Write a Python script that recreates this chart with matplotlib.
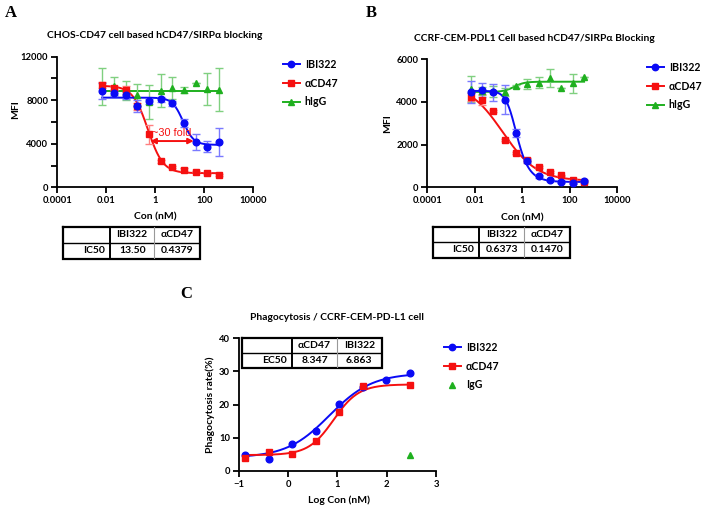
import matplotlib
matplotlib.use("Agg")
import matplotlib.pyplot as plt
import numpy as np
from matplotlib.lines import Line2D

plt.rcParams["font.family"] = ["Lato", "DejaVu Sans"]
plt.rcParams["font.weight"] = "bold"

W, H = 709, 516

# ---------------------------------------------------------------------------
# Data
# ---------------------------------------------------------------------------
conc = [0.0068, 0.020, 0.061, 0.18, 0.55, 1.65, 4.9, 15, 44, 133, 400]

# Panel A: CHOS-CD47 blocking
a_ibi322 = [8850, 8650, 8450, 7450, 7900, 8080, 7700, 5900, 4180, 3720, 4180]
a_ibi322_err = [700, 250, 300, 550, 250, 250, 200, 380, 760, 500, 1270]
a_cd47 = [9380, 9120, 8950, 7430, 4880, 2380, 1870, 1630, 1450, 1320, 1150]
a_cd47_err = [250, 200, 350, 300, 870, 120, 100, 100, 80, 80, 80]
a_higg = [9300, 9290, 8900, 8470, 7850, 8880, 9100, 8940, 9560, 9050, 8980]
a_higg_err = [1700, 800, 900, 1000, 1550, 1500, 1000, 300, 0, 1450, 1950]

# Panel B: CCRF-CEM-PDL1 blocking
b_ibi322 = [4470, 4560, 4450, 4110, 2540, 1230, 515, 340, 270, 210, 290]
b_ibi322_err = [510, 350, 390, 670, 190, 80, 60, 50, 50, 40, 60]
b_cd47 = [4240, 4110, 3570, 2210, 1610, 1300, 960, 715, 555, 335, 265]
b_cd47_err = [200, 250, 60, 60, 60, 60, 50, 50, 40, 40, 40]
b_higg = [4620, 4520, 4500, 4460, 4730, 4840, 4910, 5130, 4670, 4880, 5170]
b_higg_err = [610, 200, 250, 200, 80, 220, 250, 430, 0, 450, 0]

# Panel C: phagocytosis
c_ibi322_logcon = [-0.88, -0.40, 0.08, 0.56, 1.04, 1.51, 1.99, 2.47]
c_ibi322 = [4.7, 3.7, 8.0, 12.0, 20.2, 25.3, 27.4, 29.6]
c_cd47_logcon = [-0.88, -0.40, 0.08, 0.56, 1.04, 1.51, 2.47]
c_cd47 = [4.0, 5.6, 5.0, 9.1, 17.9, 25.6, 25.9]
c_igg_logcon = [2.47]
c_igg = [4.8]

# curve fits: (value at low x, value at high x, midpoint, hill, asymmetry)
a_fit_ibi322 = (8240, 3900, 13.5, 2.0, 1.0)
a_fit_cd47 = (9330, 1300, 0.50, 1.4, 1.0)
a_fit_higg = (8880, 8880, 1.0, 1.0, 1.0)
b_fit_ibi322 = (4520, 250, 0.40, 2.2, 0.55)
b_fit_cd47 = (4900, 300, 0.147, 0.6, 1.0)
b_fit_higg = (4470, 4950, 0.45, 2.0, 1.0)
c_fit_ibi322 = (4.0, 29.5, 6.863, 1.0, 1.0)
c_fit_cd47 = (4.8, 26.1, 8.347, 1.7, 1.0)

# "~30 fold" shift arrow between the two IC50 levels
fold_arrow_x = (0.63, 37)
fold_arrow_y = 4250

a_table = [["", "IBI322", "αCD47"], ["IC50", "13.50", "0.4379"]]
b_table = [["", "IBI322", "αCD47"], ["IC50", "0.6373", "0.1470"]]
c_table = [["", "αCD47", "IBI322"], ["EC50", "8.347", "6.863"]]

log_ticks = [0.0001, 0.01, 1, 100, 10000]
log_ticklabels = ["0.0001", "0.01", "1", "100", "10000"]

BLUE, BLUE_E = "#0a0af5", "#7a7aff"
RED, RED_E = "#f51010", "#ff8080"
GREEN, GREEN_E = "#1fb01f", "#80d080"


def logistic(x, params):
    y_low, y_high, mid, hill, asym = params
    x = np.asarray(x, dtype=float)
    return y_high + (y_low - y_high) / (1 + (x / mid) ** hill) ** asym


def px_axes(fig, left, top, right, bottom):
    return fig.add_axes([left / W, 1 - bottom / H, (right - left) / W, (bottom - top) / H])


def style(ax):
    for s in ("top", "right"):
        ax.spines[s].set_visible(False)
    for s in ("left", "bottom"):
        ax.spines[s].set_linewidth(1.3)
    ax.tick_params(direction="out", length=4, width=1.3, labelsize=6.8, pad=2.5)
    ax.tick_params(which="minor", direction="out", length=4, width=1.3)


def series(ax, x, y, err, fit, color, ecolor, marker, ms):
    xs = np.logspace(np.log10(x[0]), np.log10(x[-1]), 300)
    ax.plot(xs, logistic(xs, fit), "-", color=color, lw=1.4, zorder=2)
    if err is not None:
        ax.errorbar(x, y, yerr=err, fmt="none", ecolor=ecolor, elinewidth=1.0,
                    capsize=3, capthick=1.0, zorder=2)
    ax.plot(x, y, marker, ls="none", color=color, ms=ms, zorder=3)


def legend(ax, labels, anchor, igg_line=True):
    handles = [
        Line2D([0], [0], marker="o", color=BLUE, lw=1.4, ms=4.6),
        Line2D([0], [0], marker="s", color=RED, lw=1.4, ms=4.6),
        Line2D([0], [0], marker="^", color=GREEN, lw=1.4 if igg_line else 0,
               ls="-" if igg_line else "none", ms=4.8),
    ]
    ax.legend(handles, labels, loc="upper left",
              bbox_to_anchor=(anchor[0] / W, 1 - anchor[1] / H),
              bbox_transform=ax.figure.transFigure, frameon=False,
              handlelength=1.6, handletextpad=0.45, labelspacing=0.72,
              fontsize=7.6, borderpad=0, borderaxespad=0)


def table(fig, left, top, right, bottom, cols, rows):
    tx = px_axes(fig, left, top, right, bottom)
    tx.set_xlim(left, right)
    tx.set_ylim(bottom, top)
    tx.axis("off")
    tx.set_zorder(5)
    mid = (top + bottom) / 2
    tx.fill([left, right, right, left], [top, top, bottom, bottom], color="white", zorder=0)
    tx.plot([left, right, right, left, left], [top, top, bottom, bottom, top],
            color="black", lw=1.6, clip_on=False, solid_joinstyle="miter")
    tx.plot([left, right], [mid, mid], color="black", lw=1.0)
    tx.plot([cols[0], cols[0]], [top, bottom], color="black", lw=1.4)
    tx.plot([cols[1], cols[1]], [top, bottom], color="#999999", lw=0.8)
    edges = [left] + list(cols) + [right]
    for r, row in enumerate(rows):
        yc = (top + mid) / 2 if r == 0 else (mid + bottom) / 2
        for c, txt in enumerate(row):
            if c == 0:
                tx.text(cols[0] - 5, yc, txt, ha="right", va="center", fontsize=7.5)
            else:
                tx.text((edges[c] + edges[c + 1]) / 2, yc, txt, ha="center",
                        va="center", fontsize=7.5)


def ftext(x, y, s, **kw):
    fig.text(x / W, 1 - y / H, s, **kw)


fig = plt.figure(figsize=(W / 100, H / 100), dpi=100)

# ---------------------------------------------------------------- Panel A
ax = px_axes(fig, 57.3, 56.7, 253.3, 187.3)
style(ax)
series(ax, conc, a_higg, a_higg_err, a_fit_higg, GREEN, GREEN_E, "^", 4.8)
series(ax, conc, a_cd47, a_cd47_err, a_fit_cd47, RED, RED_E, "s", 4.6)
series(ax, conc, a_ibi322, a_ibi322_err, a_fit_ibi322, BLUE, BLUE_E, "o", 4.8)
ax.set_xscale("log")
ax.set_xlim(1e-4, 1e4)
ax.set_ylim(0, 12000)
ax.set_xticks(log_ticks)
ax.set_xticklabels(log_ticklabels)
ax.xaxis.set_minor_locator(matplotlib.ticker.NullLocator())
ax.set_yticks([0, 4000, 8000, 12000])
ax.set_yticks([2000, 6000, 10000], minor=True)
ax.annotate("", xy=(fold_arrow_x[0], fold_arrow_y), xytext=(fold_arrow_x[1], fold_arrow_y),
            arrowprops=dict(arrowstyle="<|-|>", color=RED, lw=1.4,
                            mutation_scale=8, shrinkA=0, shrinkB=0), zorder=4)
ax.text(0.72, 5000, "~30 fold", color=RED, fontsize=7.8, fontweight="normal",
        family="Liberation Sans", ha="left", va="center", zorder=4)
legend(ax, ["IBI322", "αCD47", "hIgG"], (283, 59))
ftext(155, 36, "CHOS-CD47 cell based hCD47/SIRPα blocking", ha="center", va="center", fontsize=7.4)
ftext(16, 110, "MFI", rotation=90, ha="center", va="center", fontsize=7.5)
ftext(155, 217, "Con (nM)", ha="center", va="center", fontsize=7.5)
ftext(5, 5, "A", family="Liberation Serif", fontsize=12, ha="left", va="top")
table(fig, 62.7, 226.5, 200, 258.5, (110, 154.3), a_table)

# ---------------------------------------------------------------- Panel B
bx = px_axes(fig, 427.3, 59.3, 617.3, 187.3)
style(bx)
series(bx, conc, b_higg, b_higg_err, b_fit_higg, GREEN, GREEN_E, "^", 4.8)
series(bx, conc, b_cd47, b_cd47_err, b_fit_cd47, RED, RED_E, "s", 4.6)
series(bx, conc, b_ibi322, b_ibi322_err, b_fit_ibi322, BLUE, BLUE_E, "o", 4.8)
bx.set_xscale("log")
bx.set_xlim(1e-4, 1e4)
bx.set_ylim(0, 6000)
bx.set_xticks(log_ticks)
bx.set_xticklabels(log_ticklabels)
bx.xaxis.set_minor_locator(matplotlib.ticker.NullLocator())
bx.set_yticks([0, 2000, 4000, 6000])
legend(bx, ["IBI322", "αCD47", "hIgG"], (647, 62))
ftext(534, 38.5, "CCRF-CEM-PDL1 Cell based hCD47/SIRPα Blocking", ha="center", va="center", fontsize=7.4)
ftext(388, 124, "MFI", rotation=90, ha="center", va="center", fontsize=7.5)
ftext(522, 218, "Con (nM)", ha="center", va="center", fontsize=7.5)
ftext(366, 5, "B", family="Liberation Serif", fontsize=12, ha="left", va="top")
table(fig, 433, 227, 570, 257.5, (479.3, 524.2), b_table)

# ---------------------------------------------------------------- Panel C
cx = px_axes(fig, 239, 338.3, 436, 471)
style(cx)
xs = np.linspace(c_ibi322_logcon[0], c_ibi322_logcon[-1], 300)
cx.plot(xs, logistic(10 ** xs, c_fit_ibi322), "-", color=BLUE, lw=1.4, zorder=2)
cx.plot(xs, logistic(10 ** xs, c_fit_cd47), "-", color=RED, lw=1.4, zorder=2)
cx.plot(c_ibi322_logcon, c_ibi322, "o", color=BLUE, ms=4.8, zorder=3)
cx.plot(c_cd47_logcon, c_cd47, "s", color=RED, ms=4.6, zorder=4)
cx.plot(c_igg_logcon, c_igg, "^", color=GREEN, ms=4.8, zorder=3)
cx.set_xlim(-1, 3)
cx.set_ylim(0, 40)
cx.set_xticks([-1, 0, 1, 2, 3])
cx.set_yticks([0, 10, 20, 30, 40])
legend(cx, ["IBI322", "αCD47", "IgG"], (444, 342), igg_line=False)
ftext(337.5, 318, "Phagocytosis / CCRF-CEM-PD-L1 cell", ha="center", va="center", fontsize=7.4)
ftext(210, 405, "Phagocytosis rate(%)", rotation=90, ha="center", va="center", fontsize=7.5)
ftext(339, 500, "Log Con (nM)", ha="center", va="center", fontsize=7.5)
ftext(180, 286, "C", family="Liberation Serif", fontsize=12, ha="left", va="top")
table(fig, 242, 337.7, 381.7, 368.3, (292.3, 336.7), c_table)

fig.savefig("out.png", dpi=100)
